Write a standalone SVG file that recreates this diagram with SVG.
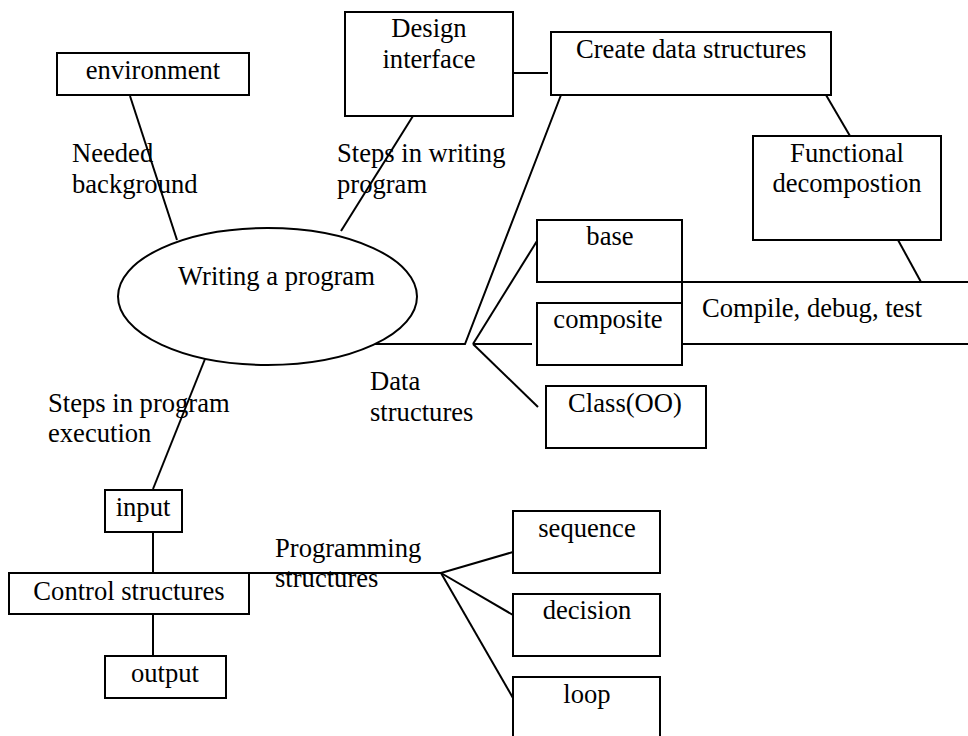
<svg xmlns="http://www.w3.org/2000/svg" width="968" height="736" viewBox="0 0 968 736">
<style>
  .box{fill:#fff;stroke:#000;stroke-width:2}
  .ln{stroke:#000;stroke-width:2;fill:none}
  text{font-family:"Liberation Serif","Times New Roman",serif;font-size:26.6px;fill:#000}
  .c{text-anchor:middle}
</style>
<rect width="968" height="736" fill="#fff"/>
<g id="connectors">
  <line class="ln" x1="130" y1="96" x2="177" y2="240"/>
  <line class="ln" x1="413" y1="116" x2="341" y2="231"/>
  <line class="ln" x1="514" y1="73" x2="548" y2="73"/>
  <line class="ln" x1="826" y1="95" x2="850" y2="136"/>
  <line class="ln" x1="898" y1="240" x2="921" y2="282"/>
  <polyline class="ln" points="369,344 465,344 561,95"/>
  <line class="ln" x1="473" y1="344" x2="537" y2="241"/>
  <line class="ln" x1="473" y1="344" x2="532" y2="344"/>
  <line class="ln" x1="473" y1="344" x2="538" y2="407"/>
  <line class="ln" x1="205" y1="359" x2="153" y2="489"/>
  <line class="ln" x1="153" y1="532" x2="153" y2="573"/>
  <line class="ln" x1="153" y1="614" x2="153" y2="656"/>
  <line class="ln" x1="249" y1="573" x2="441" y2="573"/>
  <line class="ln" x1="441" y1="573" x2="513" y2="552"/>
  <line class="ln" x1="441" y1="573" x2="513" y2="615"/>
  <line class="ln" x1="441" y1="573" x2="513" y2="698"/>
</g>
<g id="labels">
  <text x="72" y="162">Needed</text>
  <text x="72" y="193">background</text>
  <text x="337" y="162">Steps in writing</text>
  <text x="337" y="193">program</text>
  <text x="370" y="390">Data</text>
  <text x="370" y="421">structures</text>
  <text x="48" y="412">Steps in program</text>
  <text x="48" y="442">execution</text>
  <text x="275" y="557">Programming</text>
  <text x="275" y="587">structures</text>
</g>
<g id="writing">
  <ellipse class="box" cx="267.5" cy="296.5" rx="149.5" ry="68.5"/>
  <text x="178" y="285">Writing a program</text>
</g>
<g id="environment">
  <rect class="box" x="57" y="53" width="192" height="42"/>
  <text class="c" x="153" y="79">environment</text>
</g>
<g id="design">
  <rect class="box" x="345" y="12" width="168" height="104"/>
  <text class="c" x="429" y="37">Design</text>
  <text class="c" x="429" y="68">interface</text>
</g>
<g id="create">
  <rect class="box" x="551" y="32" width="280" height="63"/>
  <text x="576" y="58">Create data structures</text>
</g>
<g id="functional">
  <rect class="box" x="753" y="136" width="188" height="104"/>
  <text class="c" x="847" y="162">Functional</text>
  <text class="c" x="847" y="192">decompostion</text>
</g>
<g id="compile">
  <rect class="box" x="682" y="282" width="300" height="62"/>
  <text x="702" y="317">Compile, debug, test</text>
</g>
<g id="base">
  <rect class="box" x="537" y="220" width="145" height="62"/>
  <text class="c" x="610" y="245">base</text>
</g>
<g id="composite">
  <rect class="box" x="537" y="303" width="145" height="62"/>
  <text class="c" x="608" y="328">composite</text>
</g>
<g id="class">
  <rect class="box" x="546" y="386" width="160" height="62"/>
  <text class="c" x="625" y="412">Class(OO)</text>
</g>
<g id="input">
  <rect class="box" x="105" y="490" width="77" height="42"/>
  <text class="c" x="143" y="516">input</text>
</g>
<g id="control">
  <rect class="box" x="9" y="573" width="240" height="41"/>
  <text class="c" x="129" y="600">Control structures</text>
</g>
<g id="output">
  <rect class="box" x="105" y="656" width="121" height="42"/>
  <text class="c" x="165" y="682">output</text>
</g>
<g id="sequence">
  <rect class="box" x="513" y="511" width="147" height="62"/>
  <text class="c" x="587" y="537">sequence</text>
</g>
<g id="decision">
  <rect class="box" x="513" y="594" width="147" height="62"/>
  <text class="c" x="587" y="619">decision</text>
</g>
<g id="loop">
  <rect class="box" x="513" y="677" width="147" height="80"/>
  <text class="c" x="587" y="703">loop</text>
</g>
</svg>
